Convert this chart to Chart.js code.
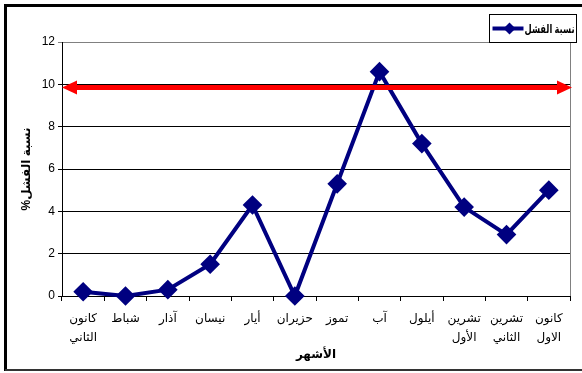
<!DOCTYPE html>
<html>
<head>
<meta charset="utf-8">
<script src="https://cdn.jsdelivr.net/npm/chart.js@4"></script>
<style>
  html, body { margin: 0; padding: 0; background: #fff; }
  #wrap { width: 582px; height: 373px; position: relative; }
</style>
</head>
<body>
<div id="wrap"><canvas id="chart" dir="rtl"></canvas></div>
<script>
const months = [
  ['كانون', 'الثاني'], 'شباط', 'آذار', 'نيسان', 'أيار', 'حزيران',
  'تموز', 'آب', 'أيلول', ['تشرين', 'الأول'], ['تشرين', 'الثاني'], ['كانون', 'الاول']
];
const failureRate = [0.2, 0, 0.3, 1.5, 4.3, 0, 5.3, 10.6, 7.2, 4.2, 2.9, 5.0];
const thresholdValue = 9.85;
const seriesLabel = 'نسبة الفشل';
const yTitle = 'نسبة الفشل%';
const xTitle = 'الأشهر';

const NAVY = '#000080';
const FONT = '"Liberation Sans", "DejaVu Sans", Arial, sans-serif';

// white page + outer frame
const framePlugin = {
  id: 'frame',
  beforeDraw(chart) {
    const ctx = chart.ctx;
    ctx.save();
    ctx.fillStyle = '#fff';
    ctx.fillRect(0, 0, chart.width, chart.height);
    ctx.strokeStyle = '#000';
    ctx.lineWidth = 3;
    ctx.beginPath();
    ctx.moveTo(5.5, 371);
    ctx.lineTo(5.5, 5.5);
    ctx.lineTo(chart.width, 5.5);
    ctx.stroke();
    ctx.strokeStyle = '#333';
    ctx.lineWidth = 2;
    ctx.beginPath();
    ctx.moveTo(5, 370);
    ctx.lineTo(chart.width, 370);
    ctx.stroke();
    ctx.restore();
  },
  beforeDatasetsDraw(chart) {
    const { ctx, chartArea } = chart;
    ctx.save();
    ctx.strokeStyle = '#808080';
    ctx.lineWidth = 1;
    ctx.beginPath();
    ctx.moveTo(Math.round(chartArea.right) + 0.5, chartArea.top);
    ctx.lineTo(Math.round(chartArea.right) + 0.5, chartArea.bottom);
    ctx.stroke();
    ctx.restore();
  }
};

// red double-headed arrow at threshold
const thresholdPlugin = {
  id: 'threshold',
  afterDatasetsDraw(chart) {
    const { ctx, chartArea, scales } = chart;
    const y = scales.y.getPixelForValue(thresholdValue);
    const l = chartArea.left, r = chartArea.right + 2;
    ctx.save();
    ctx.strokeStyle = '#ff0000';
    ctx.fillStyle = '#ff0000';
    ctx.lineWidth = 5;
    ctx.beginPath();
    ctx.moveTo(l + 10, y);
    ctx.lineTo(r - 10, y);
    ctx.stroke();
    ctx.beginPath();
    ctx.moveTo(l, y);
    ctx.lineTo(l + 15, y - 7);
    ctx.lineTo(l + 15, y + 7);
    ctx.closePath();
    ctx.fill();
    ctx.beginPath();
    ctx.moveTo(r, y);
    ctx.lineTo(r - 15, y - 7);
    ctx.lineTo(r - 15, y + 7);
    ctx.closePath();
    ctx.fill();
    ctx.restore();
  }
};

// boxed legend in the top right corner
const boxLegendPlugin = {
  id: 'boxLegend',
  afterDraw(chart) {
    const ctx = chart.ctx;
    const x0 = 489.5, y0 = 14.5, w = 87, h = 28;
    const cy = y0 + h / 2;
    ctx.save();
    ctx.direction = 'ltr';
    ctx.fillStyle = '#fff';
    ctx.fillRect(x0, y0, w, h);
    ctx.strokeStyle = '#000';
    ctx.lineWidth = 1;
    ctx.strokeRect(x0, y0, w, h);
    ctx.strokeStyle = NAVY;
    ctx.fillStyle = NAVY;
    ctx.lineWidth = 4;
    ctx.beginPath();
    ctx.moveTo(x0 + 3, cy);
    ctx.lineTo(x0 + 34, cy);
    ctx.stroke();
    const cx = x0 + 20;
    ctx.beginPath();
    ctx.moveTo(cx, cy - 6);
    ctx.lineTo(cx + 6, cy);
    ctx.lineTo(cx, cy + 6);
    ctx.lineTo(cx - 6, cy);
    ctx.closePath();
    ctx.fill();
    // text squeezed into the space right of the marker
    ctx.fillStyle = '#000';
    ctx.font = 'bold 12px ' + FONT;
    ctx.textBaseline = 'middle';
    ctx.textAlign = 'left';
    const avail = w - 37;
    const tw = ctx.measureText(seriesLabel).width;
    const sx = Math.min(1, avail / tw);
    ctx.translate(x0 + w - 2 - tw * sx, cy + 1);
    ctx.scale(sx, 1);
    ctx.fillText(seriesLabel, 0, 0);
    ctx.restore();
  }
};

const ctx = document.getElementById('chart').getContext('2d');
new Chart(ctx, {
  type: 'line',
  data: {
    labels: months,
    datasets: [{
      label: seriesLabel,
      data: failureRate,
      borderColor: NAVY,
      backgroundColor: NAVY,
      borderWidth: 4,
      pointStyle: 'rectRot',
      pointRadius: 7,
      pointHoverRadius: 7,
      tension: 0,
      clip: false
    }]
  },
  options: {
    responsive: true,
    maintainAspectRatio: false,
    animation: false,
    layout: { padding: { top: 42, right: 12, left: 19, bottom: 11 } },
    plugins: {
      legend: { display: false },
      tooltip: { enabled: false }
    },
    scales: {
      x: {
        offset: true,
        afterFit: s => { s.height = 66; },
        grid: {
          offset: true,
          drawOnChartArea: false,
          color: '#000',
          tickLength: 5
        },
        border: { color: '#000', width: 1 },
        ticks: {
          color: '#000',
          padding: 8,
          maxRotation: 0,
          autoSkip: false,
          font: { family: FONT, size: 12, lineHeight: 1.6 }
        },
        title: {
          display: true,
          text: xTitle,
          color: '#000',
          padding: { top: 0, bottom: 0 },
          font: { family: FONT, size: 12, weight: 'bold' }
        }
      },
      y: {
        min: 0,
        max: 12,
        afterFit: s => { s.width = 43; },
        ticks: {
          stepSize: 2,
          color: '#000',
          padding: 3,
          font: { family: FONT, size: 12 }
        },
        grid: {
          color: c => c.tick && c.tick.value === 12 ? '#808080' : '#000',
          tickLength: 4,
          lineWidth: 1
        },
        border: { color: '#000', width: 1 },
        title: {
          display: true,
          text: yTitle,
          color: '#000',
          padding: { top: 0, bottom: 0 },
          font: { family: FONT, size: 12, weight: 'bold' }
        }
      }
    }
  },
  plugins: [framePlugin, thresholdPlugin, boxLegendPlugin]
});
</script>
</body>
</html>
